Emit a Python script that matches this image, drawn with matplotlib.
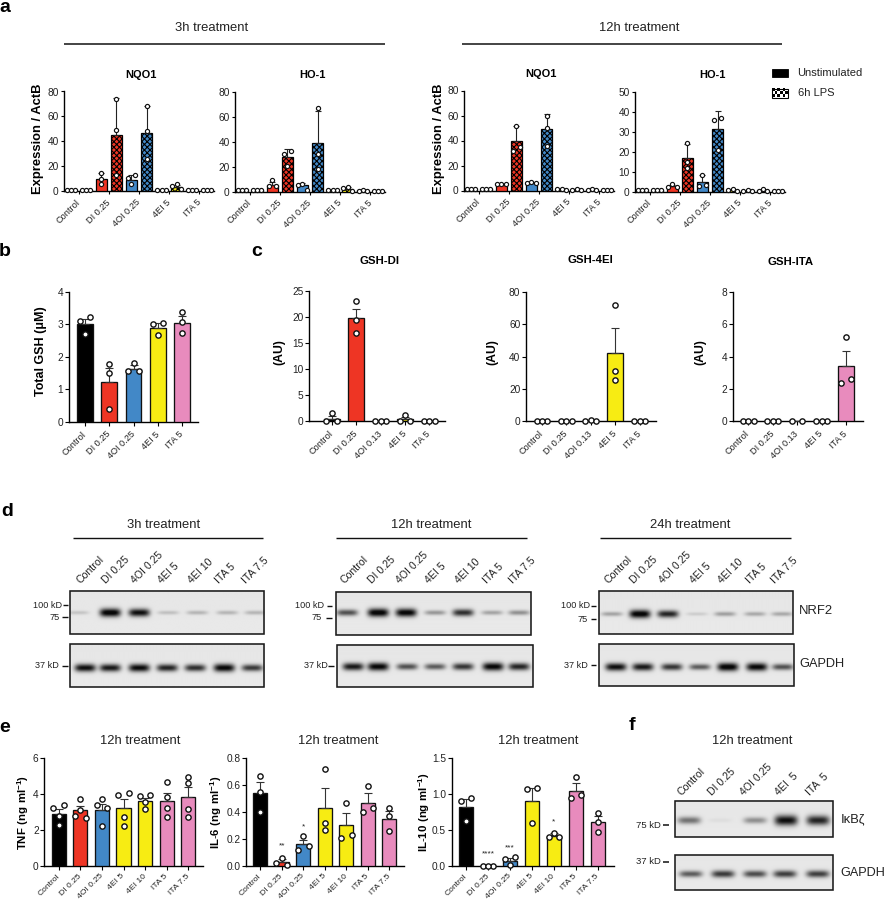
import numpy as np
import matplotlib
matplotlib.use('Agg')
import matplotlib.pyplot as plt
from matplotlib.patches import Rectangle

plt.rcParams['font.family'] = ['Liberation Sans', 'DejaVu Sans']
plt.rcParams['mathtext.fontset'] = 'custom'
plt.rcParams['mathtext.bf'] = 'Liberation Sans:bold'
plt.rcParams['mathtext.rm'] = 'Liberation Sans'
plt.rcParams['hatch.linewidth'] = 0.8

# ---------- data: panel a ----------
a_groups = ['Control', 'DI 0.25', '4OI 0.25', '4EI 5', 'ITA 5']
a1_bars = [1, 1, 10, 45, 9, 47, 1, 3, 1, 1]
a1_err = [0, 0, 4.5, 30, 3.5, 21, 0, 2, 0, 0]
a1_pts = [[1, 1, 1], [1, 1, 1], [14.4, 9.6, 5.6], [74, 49, 12.5], [10.4, 13, 6], [68.5, 48, 25.7],
          [1, 1, 1], [5.9, 3.7, 1.6], [0.8, 1, 0.8], [1, 1, 1]]
a2_bars = [1, 1, 5.5, 28, 5, 39, 1, 2, 1, 0.8]
a2_err = [0, 0, 2.5, 6.5, 2, 26, 0, 1.5, 0, 0]
a2_pts = [[1, 1, 1], [1, 1, 1], [9.2, 4.8, 4.8], [30.5, 32.4, 20.6], [5, 6, 1.6], [67.5, 30, 18],
          [1, 1, 1], [3.7, 3, 0.6], [1, 0.8, 0.5], [0.8, 0.8, 0.8]]
a3_bars = [1, 1, 4.5, 40, 6, 49, 1, 1, 0.8, 0.5]
a3_err = [0, 0, 1, 12, 1, 12, 0, 0, 0, 0]
a3_pts = [[1, 1, 1], [1, 1, 1], [5.5, 5, 5], [52, 35, 32], [7, 6, 6], [60, 50, 36],
          [1, 0.8, 1], [1, 0.8, 0.8], [1.2, 0.5, 0.4], [0.8, 0.4, 0.4]]
a4_bars = [1, 1, 3, 17, 4.7, 31.3, 1, 0.5, 0.6, 0.2]
a4_err = [0, 0, 0.5, 7, 3.5, 9.2, 0, 0, 0, 0]
a4_pts = [[1, 1, 1], [1, 1, 1], [3.7, 2.2, 2.2], [24.5, 15, 12], [8.3, 2.8, 3.5], [36, 37, 21],
          [1.2, 0.5, 1], [0.8, 0.4, 0.4], [1.2, 0.5, 0.4], [0.2, 0.2, 0.2]]

# ---------- data: panel b, c ----------
b_labels = ['Control', 'DI 0.25', '4OI 0.25', '4EI 5', 'ITA 5']
b_bars = [3.02, 1.22, 1.62, 2.9, 3.05]
b_err = [0.16, 0.43, 0.12, 0.13, 0.2]
b_pts = [[3.22, 3.12, 2.7], [1.78, 1.5, 0.4], [1.8, 1.55, 1.55], [3.03, 3.0, 2.68], [3.37, 3.07, 2.75]]
c_labels = ['Control', 'DI 0.25', '4OI 0.13', '4EI 5', 'ITA 5']
c1_bars = [0.5, 19.9, 0, 0.4, 0]
c1_err = [0.5, 1.7, 0, 0.4, 0]
c1_pts = [[1.5, 0, 0], [23, 19.5, 17], [0, 0, 0], [1.2, 0, 0], [0, 0, 0]]
c2_bars = [0, 0, 0.2, 42.5, 0]
c2_err = [0, 0, 0, 15, 0]
c2_pts = [[0, 0, 0], [0, 0, 0], [0.8, 0, 0], [72, 31, 25.5], [0, 0, 0]]
c3_bars = [0, 0, 0, 0, 3.4]
c3_err = [0, 0, 0, 0, 0.95]
c3_pts = [[0, 0, 0], [0, 0, 0], [0, 0], [0, 0, 0], [5.2, 2.6, 2.4]]

# ---------- data: panel e ----------
e_labels = ['Control', 'DI 0.25', '4OI 0.25', '4EI 5', '4EI 10', 'ITA 5', 'ITA 7.5']
e1_bars = [2.9, 3.1, 3.1, 3.22, 3.6, 3.6, 3.85]
e1_err = [0.27, 0.23, 0.34, 0.48, 0.2, 0.47, 0.55]
e1_pts = [[3.23, 3.37, 2.8, 2.3], [3.74, 3.1, 2.8, 2.65], [3.4, 3.7, 3.2, 2.2], [3.95, 4.08, 2.74, 2.23],
          [3.9, 3.97, 3.55, 3.15], [4.68, 3.82, 3.2, 2.7], [4.97, 4.6, 3.18, 2.72]]
e2_bars = [0.54, 0.03, 0.16, 0.43, 0.3, 0.47, 0.35]
e2_err = [0.08, 0.02, 0.035, 0.15, 0.09, 0.07, 0.055]
e2_pts = [[0.67, 0.55, 0.4], [0.06, 0.02, 0.005], [0.22, 0.145, 0.115], [0.72, 0.32, 0.265],
          [0.47, 0.225, 0.205], [0.59, 0.43, 0.4], [0.43, 0.37, 0.26]]
e3_bars = [0.82, 0.01, 0.07, 0.91, 0.42, 1.05, 0.61]
e3_err = [0.11, 0, 0.04, 0.17, 0.03, 0.1, 0.08]
e3_pts = [[0.94, 0.9, 0.63], [0, 0, 0], [0.125, 0.1, 0.005], [1.09, 1.07, 0.59],
          [0.46, 0.4, 0.4], [1.24, 0.94, 0.99], [0.74, 0.61, 0.475]]

# ---------- data: blot band strengths ----------
blot_labels = ['Control', 'DI 0.25', '4OI 0.25', '4EI 5', '4EI 10', 'ITA 5', 'ITA 7.5']
d1_nrf2 = [0.12, 1.0, 0.9, 0.14, 0.18, 0.18, 0.18]
d1_gapdh = [0.9, 0.85, 0.92, 0.8, 0.75, 0.95, 0.7]
d2_nrf2 = [0.6, 1.0, 0.97, 0.3, 0.75, 0.25, 0.33]
d2_gapdh = [0.85, 0.95, 0.6, 0.55, 0.72, 0.95, 0.8]
d3_nrf2 = [0.25, 1.0, 0.8, 0.09, 0.27, 0.23, 0.23]
d3_gapdh = [0.9, 0.85, 0.72, 0.55, 1.0, 0.95, 0.6]
f_labels = ['Control', 'DI 0.25', '4OI 0.25', '4EI  5', 'ITA  5']
f_ikb = [0.45, 0.03, 0.33, 0.9, 0.8]
f_gapdh = [0.55, 0.7, 0.62, 0.68, 0.68]

# ---------- colours ----------
BLACK, RED, BLUE, YEL, PINK = '#000000', '#EE3524', '#4288C7', '#F7EC13', '#E88BBD'
five = [BLACK, RED, BLUE, YEL, PINK]
seven = [BLACK, RED, BLUE, YEL, YEL, PINK, PINK]
TXT = '#222222'

W, H = 886, 900
fig = plt.figure(figsize=(W / 100, H / 100), dpi=100)
bg = fig.add_axes([0, 0, 1, 1], zorder=0)
bg.axis('off')


def T(x, y, s, size=9.4, weight='normal', ha='center', va='center', rot=0, **kw):
    bg.text(x, y, s, fontsize=size, fontweight=weight, ha=ha, va=va, rotation=rot,
            color=kw.pop('color', TXT), rotation_mode='anchor', **kw)


def HL(x0, x1, y, lw=1.1):
    bg.plot([x0, x1], [y, y], color='#111111', lw=lw, solid_capstyle='butt')


def px_axes(l, r, top, bot):
    ax = fig.add_axes([l / W, 1 - bot / H, (r - l) / W, (bot - top) / H], zorder=2)
    ax.patch.set_alpha(0)
    for s in ('top', 'right'):
        ax.spines[s].set_visible(False)
    for s in ('left', 'bottom'):
        ax.spines[s].set_linewidth(1.0)
    return ax


def swarm(vals, per_px_y, thresh, d3, d2):
    """Offsets in px: neighbours closer than thresh px sit side by side."""
    vals = np.asarray(vals, float)
    order = np.argsort(vals)
    off = np.zeros(len(vals))
    groups, cur = [], [order[0]]
    for i in order[1:]:
        if (vals[i] - vals[cur[-1]]) * per_px_y < thresh:
            cur.append(i)
        else:
            groups.append(cur)
            cur = [i]
    groups.append(cur)
    for g in groups:
        if len(g) == 2:
            off[g[0]], off[g[1]] = -d2, d2
        elif len(g) == 3:
            off[g[0]], off[g[1]], off[g[2]] = d3, -d3, 0
        elif len(g) == 4:
            for k, o in zip(g, (-1.5, -0.5, 0.5, 1.5)):
                off[k] = o * d3
    return off


def draw_points(ax, xs, pts, spacing, ymax, hpx, thresh, d3, d2, ms, mew):
    for x, p in zip(xs, pts):
        o = swarm(p, hpx / ymax, thresh, d3, d2) / spacing
        ax.plot(x + o, p, ls='none', marker='o', ms=ms, mfc='white', mec='#111111', mew=mew,
                clip_on=False, zorder=5)


def xlabels(ax, labels, size):
    ax.set_xticklabels(labels, rotation=45, ha='right', va='center', rotation_mode='anchor',
                       fontsize=size, color=TXT)


def panel_a(l, top, bot, ymax, yt, bars, err, pts):
    ax = px_axes(l, l + 150, top, bot)
    sp = 15.1
    ax.set_xlim(-7 / sp, 9 + 7 / sp)
    ax.set_ylim(0, ymax)
    xs = np.arange(10)
    colors = [c for c in five for _ in (0, 1)]
    for i in xs:
        lps = i % 2 == 1
        ax.bar(i, bars[i], width=0.72, color=colors[i], edgecolor='black', lw=0.9,
               hatch='xxxxxx' if lps else None, zorder=3)
    ax.errorbar(xs, bars, yerr=[np.zeros(10), err], fmt='none', ecolor='#222222', elinewidth=0.8,
                capsize=2.2, capthick=0.8, zorder=4)
    draw_points(ax, xs, pts, sp, ymax, bot - top, 4.5, 4.3, 3.5, 3.0, 0.85)
    ax.set_yticks(yt)
    ax.set_xticks([0.5, 2.5, 4.5, 6.5, 8.5])
    xlabels(ax, a_groups, 6.6)
    ax.tick_params(axis='y', length=2.4, width=0.8, pad=1.5, labelsize=7.3, labelcolor=TXT)
    ax.tick_params(axis='x', length=2.2, width=0.8, pad=5)
    return ax


def panel_bar(l, r, top, bot, x0, sp, ymax, yt, ytl, labels, bars, err, pts, colors, width, lsize=6.6, pad=5):
    ax = px_axes(l, r, top, bot)
    ax.set_xlim((l - x0) / sp, (r - x0) / sp)
    ax.set_ylim(0, ymax)
    xs = np.arange(len(bars))
    ax.bar(xs, bars, width=width, color=colors, edgecolor='#111111', lw=0.95, zorder=3)
    ax.errorbar(xs, bars, yerr=[np.zeros(len(bars)), err], fmt='none', ecolor='#333333', elinewidth=0.8,
                capsize=3, capthick=0.8, zorder=4)
    draw_points(ax, xs, pts, sp, ymax, bot - top, 6, 5.4, 5.3, 3.8, 1.0)
    ax.set_yticks(yt)
    ax.set_yticklabels(ytl)
    ax.set_xticks(xs)
    xlabels(ax, labels, lsize)
    ax.tick_params(axis='y', length=2.6, width=0.8, pad=1.5, labelsize=7.3, labelcolor=TXT)
    ax.tick_params(axis='x', length=3, width=0.8, pad=pad)
    return ax


def blot(l, r, top, bot, lanes, cy, strengths, bgval=0.90, wx=10.5, wy=2.6):
    w, h = int(round(r - l)) * 2, int(round(bot - top)) * 2
    X, Y = np.meshgrid(np.linspace(l, r, w), np.linspace(top, bot, h))
    img = bgval + 0.015 * (Y - top) / (bot - top)
    for cx, s in zip(lanes, strengths):
        img = img - (0.95 * s ** 0.9) * np.exp(-((X - cx) / wx) ** 4 - ((Y - cy) / (wy * (0.6 + 1.0 * s))) ** 2)
    bg.imshow(np.clip(img, 0.03, 1), extent=(l, r, bot, top), cmap='gray', vmin=0, vmax=1,
              aspect='auto', interpolation='bilinear', zorder=1)
    bg.add_patch(Rectangle((l, top), r - l, bot - top, fill=False, ec='#1a1a1a', lw=1.15, zorder=3))


# ---------- panel letters ----------
for x, y, s in [(-1, 7, 'a'), (-1, 251, 'b'), (251, 251, 'c'), (1, 511, 'd'), (-1, 727, 'e'), (629, 725, 'f')]:
    T(x, y, s, size=14, weight='bold', ha='left', color='black')

# ---------- panel a ----------
T(212, 28, '3h treatment')
HL(64, 385, 44)
T(639, 28, '12h treatment')
HL(462, 782, 44)
for x, y, s in [(141, 75, 'NQO1'), (312, 75, 'HO-1'), (541, 74, 'NQO1'), (712, 75, 'HO-1')]:
    T(x, y, s, size=7.9, weight='bold', color='black')
T(38, 139, 'Expression / ActB', weight='bold', rot=90, color='black')
T(439, 139, 'Expression / ActB', weight='bold', rot=90, color='black')
panel_a(64, 91.5, 191, 80, [0, 20, 40, 60, 80], a1_bars, a1_err, a1_pts)
panel_a(235, 92, 191.5, 80, [0, 20, 40, 60, 80], a2_bars, a2_err, a2_pts)
panel_a(464, 90.5, 190.5, 80, [0, 20, 40, 60, 80], a3_bars, a3_err, a3_pts)
panel_a(635, 91.7, 191.5, 50, [0, 10, 20, 30, 40, 50], a4_bars, a4_err, a4_pts)
bg.add_patch(Rectangle((772, 68.5), 16, 8.5, fc='black', ec='black', lw=0.6))
checker = np.indices((3, 6)).sum(axis=0) % 2
bg.imshow(checker, extent=(772, 788, 97.5, 89), cmap='gray', vmin=0, vmax=1, aspect='auto',
          interpolation='nearest', zorder=1)
bg.add_patch(Rectangle((772, 89), 16, 8.5, fill=False, ec='black', lw=0.8, zorder=3))
T(797, 73, 'Unstimulated', size=8, ha='left')
T(798, 93, '6h LPS', size=8, ha='left')

# ---------- panel b / c ----------
T(41, 351, 'Total GSH (\u03bcM)', size=9, weight='bold', rot=90, color='black')
panel_bar(69, 198, 292, 421.7, 85, 24.3, 4, [0, 1, 2, 3, 4], ['0', '1', '2', '3', '4'],
          b_labels, b_bars, b_err, b_pts, five, 0.65)
for x, y, s in [(380, 261, 'GSH-DI'), (590, 260, 'GSH-4EI'), (791, 262, 'GSH-ITA')]:
    T(x, y, s, size=8.2, weight='bold', color='black')
for x in (279, 492, 700):
    T(x, 352, '(AU)', size=8.8, weight='bold', rot=90, color='black')
panel_bar(309, 445, 291, 421.3, 331.7, 24.4, 25, [0, 5, 10, 15, 20, 25], ['0', '5', '10', '15', '20', '25'],
          c_labels, c1_bars, c1_err, c1_pts, five, 0.65)
panel_bar(526, 656, 292, 421.3, 542, 24.4, 80, [0, 20, 40, 60, 80], ['0', '20', '40', '60', '80'],
          c_labels, c2_bars, c2_err, c2_pts, five, 0.65)
panel_bar(732.7, 863, 292, 421.3, 748.3, 24.4, 8, [0, 2, 4, 6, 8], ['0', '2', '4', '6', '8'],
          c_labels, c3_bars, c3_err, c3_pts, five, 0.65)

# ---------- panel d ----------
for x0, x1, cx, s in [(73, 263, 164, '3h treatment'), (336, 527, 431, '12h treatment'), (600, 791, 690, '24h treatment')]:
    T(cx, 525, s)
    HL(x0, x1, 538, lw=1.0)
d_text_x = [[82, 107, 136, 163, 193, 220, 247],
            [345.7, 373, 401.7, 430, 460.7, 488, 514],
            [610, 635.7, 664, 695, 723, 751.7, 776.7]]
for xs in d_text_x:
    for x, s in zip(xs, blot_labels):
        T(x, 585, s, size=7.6, ha='left', va='bottom', rot=45)
blot(70, 264.5, 590.7, 634, [78, 110, 139, 168, 197, 227, 255], 613, d1_nrf2)
blot(70, 264.5, 644, 686.7, [85, 110, 139, 167, 195, 224, 252], 667.7, d1_gapdh)
blot(336, 530.7, 591.7, 635, [347, 378, 406, 435, 463, 492, 519], 613, d2_nrf2)
blot(337, 532.7, 644.7, 687, [353, 378, 407, 435, 463, 493, 519], 667, d2_gapdh)
blot(599.3, 792.7, 591, 634, [612, 640, 668, 697, 725, 755, 782], 614, d3_nrf2)
blot(599.3, 794, 644, 686, [616, 643, 672, 700, 728, 757, 783], 667, d3_gapdh)
for rx, dx0, dx1, y, s in [(62, 63, 68, 605, '100 kD'), (60, 62, 68, 617, '75'), (59, 62, 68, 666, '37 kD'),
                           (324, 327, 332, 606, '100 kD'), (322, 326, 332, 618, '75'), (328, 328, 334, 666, '37 kD'),
                           (590, 591, 596, 606, '100 kD'), (588, 591, 596, 619, '75'), (588, 591, 596, 665, '37 kD')]:
    T(rx, y, s, size=6.6, ha='right')
    HL(dx0, dx1, y, lw=1.0)
T(799, 611, 'NRF2', ha='left', size=9.4)
T(799, 664, 'GAPDH', ha='left', size=9.2)

# ---------- panel e ----------
for x, s in [(140, '12h treatment'), (337.7, '12h treatment'), (538, '12h treatment')]:
    T(x, 740.5, s)
T(23, 812, r'$\mathbf{TNF\ (ng\ ml^{-1})}$', size=8.2, rot=90, color='black')
T(216, 812, r'$\mathbf{IL\text{-}6\ (ng\ ml^{-1})}$', size=8.2, rot=90, color='black')
T(424, 812, r'$\mathbf{IL\text{-}10\ (ng\ ml^{-1})}$', size=8.2, rot=90, color='black')
panel_bar(44.3, 203, 758.3, 865.7, 58.7, 21.6, 6, [0, 2, 4, 6], ['0', '2', '4', '6'],
          e_labels, e1_bars, e1_err, e1_pts, seven, 0.65, lsize=6.1, pad=3.8)
panel_bar(246, 404, 758.3, 865.7, 260.3, 21.5, 0.8, [0, 0.2, 0.4, 0.6, 0.8], ['0.0', '0.2', '0.4', '0.6', '0.8'],
          e_labels, e2_bars, e2_err, e2_pts, seven, 0.65, lsize=6.1, pad=3.8)
panel_bar(451.7, 614.3, 758.3, 865.7, 466, 22, 1.5, [0, 0.5, 1.0, 1.5], ['0.0', '0.5', '1.0', '1.5'],
          e_labels, e3_bars, e3_err, e3_pts, seven, 0.65, lsize=6.1, pad=3.8)
for x, y, s in [(282.3, 846, '**'), (303.7, 827, '*'), (488, 854, '****'), (510, 848, '***'), (554, 822, '*')]:
    T(x, y, s, size=6)

# ---------- panel f ----------
T(752, 741, '12h treatment')
for x, s in zip([683, 713, 745, 780, 811.7], f_labels):
    T(x, 797, s, size=7.6, ha='left', va='bottom', rot=45)
blot(675, 832.7, 801, 837.3, [689, 720, 755, 786, 818], 821, f_ikb, wx=11.5, wy=3.4)
blot(675, 833, 855, 890, [690.7, 723, 755, 785, 818], 874, f_gapdh, wx=11.5, wy=2.8)
T(660.7, 825, '75 kD', size=6.8, ha='right')
HL(663, 669, 825)
T(660.7, 861.7, '37 kD', size=6.8, ha='right')
HL(663, 669, 861.7)
T(840.7, 819, 'I\u03baB\u03b6', ha='left', size=9.4)
T(840.7, 872.7, 'GAPDH', ha='left', size=9.1)

bg.set_xlim(0, W)
bg.set_ylim(H, 0)
fig.savefig('out.png', dpi=100)
